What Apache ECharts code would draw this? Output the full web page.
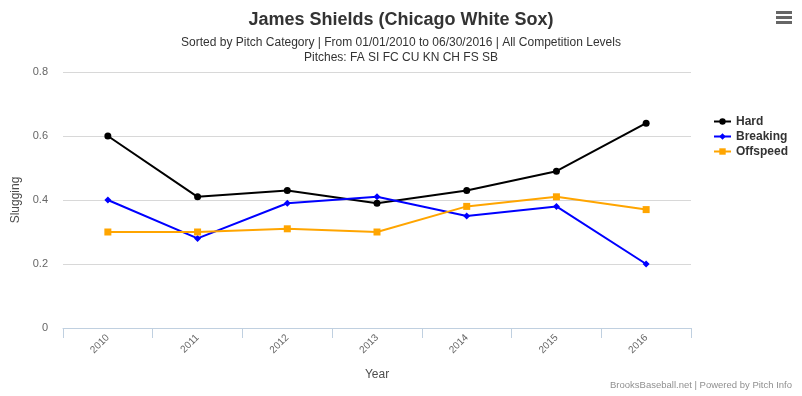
<!DOCTYPE html>
<html>
<head>
<meta charset="utf-8">
<script src="https://cdn.jsdelivr.net/npm/echarts@6/dist/echarts.min.js"></script>
<style>
  html, body { margin: 0; padding: 0; background: #fff; }
  #chart { width: 802px; height: 396px; }
</style>
</head>
<body>
<div id="chart"></div>
<script>
const years = ['2010', '2011', '2012', '2013', '2014', '2015', '2016']
const hard = [0.60, 0.41, 0.43, 0.39, 0.43, 0.49, 0.64]
const breaking = [0.40, 0.28, 0.39, 0.41, 0.35, 0.38, 0.20]
const offspeed = [0.30, 0.30, 0.31, 0.30, 0.38, 0.41, 0.37]
const yTicks = [0, 0.2, 0.4, 0.6, 0.8]

const font = '"Liberation Sans", Arial, sans-serif'
let myChart = echarts.init(document.getElementById('chart'))
let option = {
  animation: false,
  textStyle: { fontFamily: font },
  title: [
    {
      text: 'James Shields (Chicago White Sox)',
      left: 'center',
      top: 6,
      textStyle: { fontSize: 18, fontWeight: 'bold', color: '#333' },
    },
    {
      text: 'Sorted by Pitch Category | From 01/01/2010 to 06/30/2016 | All Competition Levels\nPitches: FA SI FC CU KN CH FS SB',
      left: 'center',
      top: 30,
      textStyle: { fontSize: 12, fontWeight: 'normal', color: '#333', lineHeight: 15, align: 'center' },
    },
    {
      text: 'BrooksBaseball.net | Powered by Pitch Info',
      right: 5,
      bottom: 1,
      textStyle: { fontSize: 9.5, color: '#909090', fontWeight: 'normal' },
    },
  ],
  legend: {
    orient: 'vertical',
    left: 708,
    top: 109,
    itemGap: 0,
    itemWidth: 17,
    itemHeight: 8,
    data: ['Hard', 'Breaking', 'Offspeed'],
    textStyle: { fontSize: 12, fontWeight: 'bold', color: '#333', lineHeight: 15 },
  },
  grid: { left: 63, right: 111, top: 72, bottom: 68 },
  xAxis: {
    type: 'category',
    data: years,
    boundaryGap: true,
    name: 'Year',
    nameLocation: 'middle',
    nameGap: 41,
    nameTextStyle: { fontSize: 12, color: '#4d4d4d' },
    axisLine: { lineStyle: { color: '#C0D0E0' } },
    axisTick: { show: true, length: 10, lineStyle: { color: '#C0D0E0' } },
    axisLabel: { rotate: 45, fontSize: 10, color: '#666', margin: 8 },
  },
  yAxis: {
    type: 'value',
    min: 0,
    max: 0.8,
    interval: 0.2,
    name: 'Slugging',
    nameLocation: 'middle',
    nameGap: 38,
    nameTextStyle: { fontSize: 12, color: '#4d4d4d' },
    axisLine: { show: false },
    axisTick: { show: false },
    splitLine: { lineStyle: { color: '#D8D8D8' } },
    axisLabel: {
      fontSize: 11,
      color: '#666',
      margin: 15,
      formatter: (v) => (yTicks.includes(Math.round(v * 10) / 10) ? String(Math.round(v * 10) / 10) : ''),
    },
  },
  series: [
    {
      name: 'Hard',
      type: 'line',
      data: hard,
      symbol: 'circle',
      symbolSize: 7,
      itemStyle: { color: '#000000' },
      lineStyle: { width: 2 },
    },
    {
      name: 'Breaking',
      type: 'line',
      data: breaking,
      symbol: 'diamond',
      symbolSize: 7,
      itemStyle: { color: '#0000FF' },
      lineStyle: { width: 2 },
    },
    {
      name: 'Offspeed',
      type: 'line',
      data: offspeed,
      symbol: 'rect',
      symbolSize: 7,
      itemStyle: { color: '#FFA500' },
      lineStyle: { width: 2 },
    },
  ],
  graphic: [
    { type: 'rect', left: 776, top: 11, shape: { width: 16, height: 3 }, style: { fill: '#666' } },
    { type: 'rect', left: 776, top: 16, shape: { width: 16, height: 3 }, style: { fill: '#666' } },
    { type: 'rect', left: 776, top: 21, shape: { width: 16, height: 3 }, style: { fill: '#666' } },
  ],
}
myChart.setOption(option)
</script>
</body>
</html>
